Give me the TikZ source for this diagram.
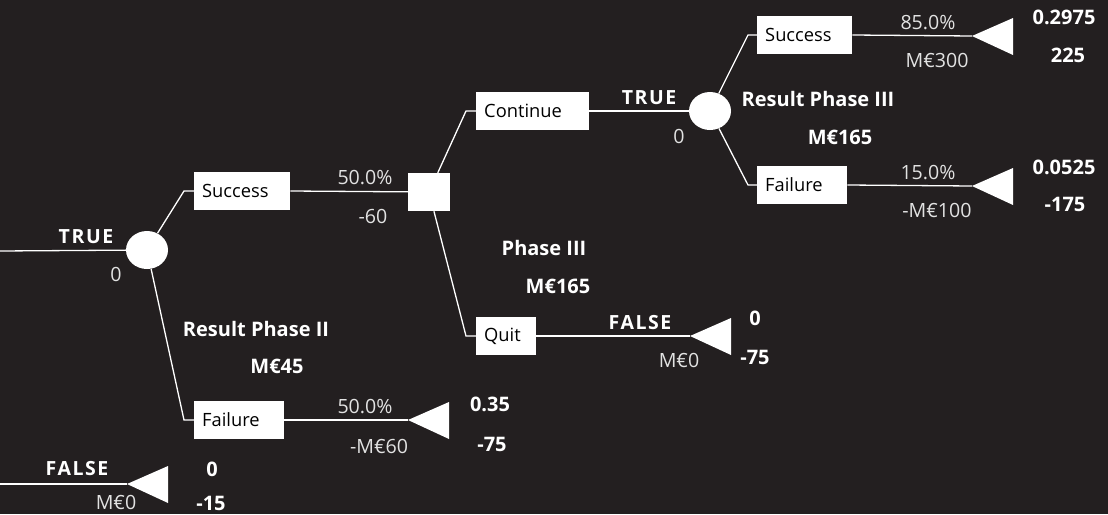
\documentclass[tikz,border=0pt]{standalone}
\usepackage{fontspec}
\setmainfont{Open Sans}
\usetikzlibrary{shapes.geometric}
\definecolor{bg}{HTML}{231F20}
\definecolor{valc}{HTML}{E2E2E2}
\begin{document}
\begin{tikzpicture}[x=1pt,y=-1pt,
 conn/.style={draw=white,line width=1.3pt},
 chance/.style={ellipse,fill=white,minimum width=42pt,minimum height=38pt,inner sep=0pt},
 decision/.style={rectangle,fill=white,minimum width=42pt,minimum height=38pt,inner sep=0pt},
 lab/.style={rectangle,fill=white,text=black,anchor=west,minimum height=38pt,inner xsep=8pt,inner ysep=0pt,align=left,font=\fontsize{18.3}{20}\selectfont},
 val/.style={text=valc,inner sep=0pt,font=\fontsize{19.6}{22}\selectfont},
 bval/.style={text=white,inner sep=0pt,font=\fontsize{20}{22}\selectfont\bfseries},
 flag/.style={text=white,inner sep=0pt,font=\fontsize{19.5}{22}\selectfont\bfseries\addfontfeature{LetterSpace=8}},
 term/.style={fill=white}
]
\fill[bg] (0,0) rectangle (1108,514);
\useasboundingbox (0,0) rectangle (1108,514);

% decision / chance nodes
\node[chance] (c1) at (147,250) {};
\node[decision] (d1) at (429,192) {};
\node[chance] (c2) at (710,111) {};

% branch labels
\node[lab,text width=80pt] (b1) at (194,191) {Success};
\node[lab,text width=74pt] (b2) at (194,420) {Failure};
\node[lab,text width=97pt] (b3) at (476,111) {Continue};
\node[lab,text width=44pt] (b4) at (476,336) {Quit};
\node[lab,text width=79pt] (b5) at (757,35) {Success};
\node[lab,text width=74pt] (b6) at (757,185) {Failure};

% elbows and free ends
\coordinate (in0) at (0,251);
\coordinate (in1) at (0,484);
\coordinate (e1) at (184,191);
\coordinate (e2) at (184,420);
\coordinate (e3) at (466,111);
\coordinate (e4) at (466,336);
\coordinate (e5) at (748,35);
\coordinate (e6) at (748,185);

% terminal triangles (tips)
\coordinate (t0) at (127,484);
\coordinate (t2) at (408,420);
\coordinate (t4) at (690,336);
\coordinate (t5) at (972,36);
\coordinate (t6) at (972,186);
\foreach \t in {t0,t2,t4,t5,t6}
  \fill[term] (\t) -- ++(41,-18) -- ++(0,37) -- cycle;

% connectors
\draw[conn] (in0) -- (c1);
\draw[conn] (in1) -- (t0);
\draw[conn] (c1) -- (e1) -- (b1.west);
\draw[conn] (b1.east) -- (d1);
\draw[conn] (c1) -- (e2) -- (b2.west);
\draw[conn] (b2.east) -- (t2);
\draw[conn] (d1) -- (e3) -- (b3.west);
\draw[conn] (b3.east) -- (c2);
\draw[conn] (d1) -- (e4) -- (b4.west);
\draw[conn] (b4.east) -- (t4);
\draw[conn] (c2) -- (e5) -- (b5.west);
\draw[conn] (b5.east) -- (t5);
\draw[conn] (c2) -- (e6) -- (b6.west);
\draw[conn] (b6.east) -- (t6);

% regular values
\node[val] (v1) at (116,274) {0};
\node[val] (v2) at (365,178) {50.0\%};
\node[val] (v3) at (373,216) {-60};
\node[val] (v4) at (679,136) {0};
\node[val] (v5) at (928,23) {85.0\%};
\node[val] (v6) at (937,60) {M€300};
\node[val] (v7) at (928,173) {15.0\%};
\node[val] (v8) at (937,210) {-M€100};
\node[val] (v9) at (679,360) {M€0};
\node[val] (v10) at (365,407) {50.0\%};
\node[val] (v11) at (379,446) {-M€60};
\node[val] (v12) at (116,502) {M€0};

% flags
\node[flag] (f1) at (86,237) {TRUE};
\node[flag] (f2) at (649,98) {TRUE};
\node[flag] (f3) at (640,323) {FALSE};
\node[flag] (f4) at (77,469) {FALSE};

% bold labels
\node[bval] (r1) at (256,329) {Result Phase II};
\node[bval] (r2) at (277,366) {M€45};
\node[bval] (r3) at (544,248) {Phase III};
\node[bval] (r4) at (558,286) {M€165};
\node[bval] (r5) at (818,99) {Result Phase III};
\node[bval] (r6) at (840,137) {M€165};
\node[bval] (p1) at (1064,17) {0.2975};
\node[bval] (p2) at (1068,55) {225};
\node[bval] (p3) at (1064,167) {0.0525};
\node[bval] (p4) at (1065,204) {-175};
\node[bval] (p5) at (755,318) {0};
\node[bval] (p6) at (755,357) {-75};
\node[bval] (p7) at (490,404) {0.35};
\node[bval] (p8) at (492,444) {-75};
\node[bval] (p9) at (212,469) {0};
\node[bval] (p10) at (211,503) {-15};
\end{tikzpicture}
\end{document}
